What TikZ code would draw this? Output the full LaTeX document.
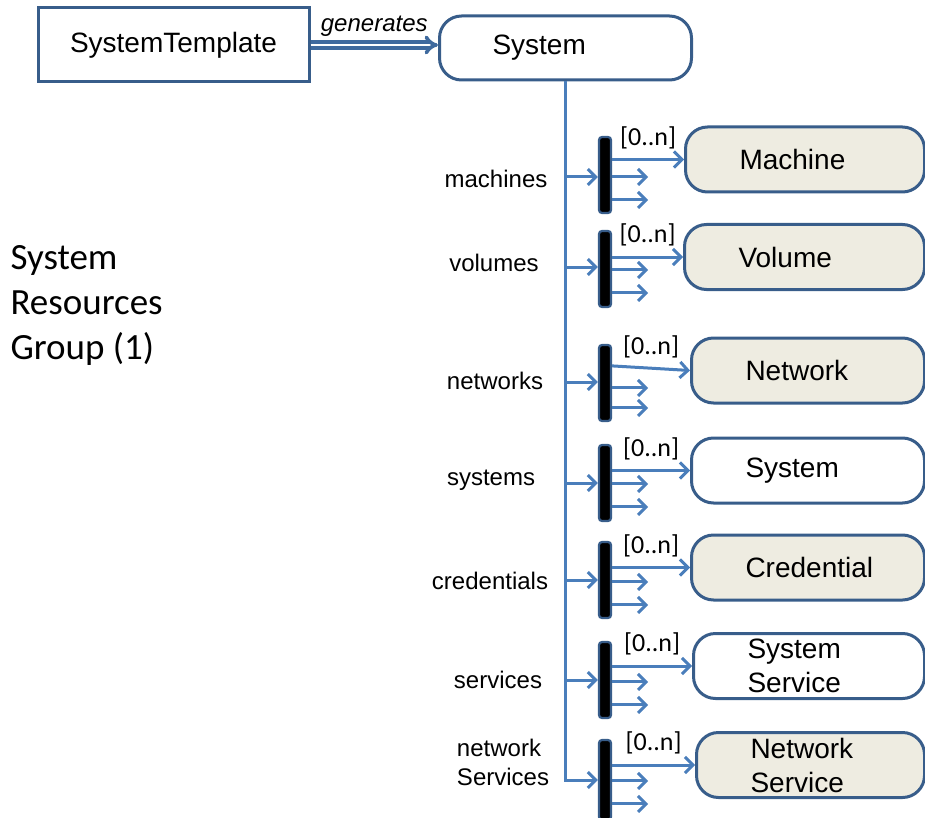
\documentclass[tikz,border=0pt]{standalone}
\usepackage{fontspec}
\setmainfont{Liberation Sans}
\newfontfamily\calibri{Carlito}
\usetikzlibrary{arrows.meta,positioning}

\definecolor{edgeblue}{HTML}{385D8A}
\definecolor{linkblue}{HTML}{4A7EBB}
\definecolor{resfill}{HTML}{EEECE1}

\tikzset{
  res/.style={draw=edgeblue, line width=3pt, rounded corners=22pt, fill=resfill,
    minimum height=65pt, text width=124pt, inner xsep=54pt, align=left,
    font=\fontsize{28}{34}\selectfont, anchor=west},
  resw/.style={res, fill=white},
  tmpl/.style={draw=edgeblue, line width=3pt, minimum width=271pt, minimum height=74pt,
    font=\fontsize{28}{34}\selectfont},
  selbar/.style={draw=edgeblue, line width=2.2pt, fill=black, rounded corners=3pt,
    minimum width=12pt, minimum height=76pt, inner sep=0pt},
  link/.style={draw=linkblue, line width=3pt, -{Straight Barb[length=8pt,width=16pt]}},
  gen/.style={draw=edgeblue!60!linkblue, line width=3.6pt, double=white, double distance=2.2pt,
    -{Implies}},
  role/.style={font=\fontsize{24}{29}\selectfont, align=left},
  mult/.style={font=\calibri\fontsize{26}{30}\selectfont, inner sep=1pt},
}

\begin{document}
\begin{tikzpicture}[x=1pt,y=-1pt]
\useasboundingbox (0,0) rectangle (925,818);

% template and generated system
\node[tmpl] (tmpl) at (173.5,45) {SystemTemplate};
\node[resw, text width=146pt, inner xsep=53pt, minimum height=64pt] (sys) at (438,48) {System};
\draw[gen] (tmpl.east) -- node[above, yshift=3pt, font=\itshape\fontsize{24}{29}\selectfont] {generates} (tmpl.east -| sys.west);

\node[font=\calibri\fontsize{37}{45}\selectfont, align=left, anchor=west] (grp) at (7,305) {System\\Resources\\Group (1)};

% machines
\node[selbar] (bar1) at (605,175) {};
\node[role] (lab1) at (496,179) {machines};
\node[res, text width=131pt] (mach) at (684,159.5) {Machine};
\draw[link] (sys.south |- 0,177) -- (bar1.west |- 0,177);
\draw[link] (bar1.east |- mach.west) -- node[mult, above, yshift=8pt] {[0..n]} (mach.west);
\draw[link] (bar1.north east) ++(0,41) -- ++(36,0);
\draw[link] (bar1.north east) ++(0,64) -- ++(36,0);

% volumes
\node[selbar] (bar2) at (605,269) {};
\node[role] (lab2) at (494,263) {volumes};
\node[res, text width=132pt] (vol) at (683,257) {Volume};
\draw[link] (sys.south |- 0,267) -- (bar2.west |- 0,267);
\draw[link] (bar2.east |- vol.west) -- node[mult, above, yshift=8pt] {[0..n]} (vol.west);
\draw[link] (bar2.north east) ++(0,40) -- ++(36,0);
\draw[link] (bar2.north east) ++(0,63) -- ++(36,0);

% networks
\node[selbar] (bar3) at (605,383) {};
\node[role] (lab3) at (495,381) {networks};
\node[res, text width=125pt] (net) at (690,370.5) {Network};
\draw[link] (sys.south |- 0,382) -- (bar3.west |- 0,382);
\draw[link] (bar3.north east) ++(0,22) -- node[mult, above, yshift=8pt] {[0..n]} (net.west);
\draw[link] (bar3.north east) ++(0,44) -- ++(36,0);
\draw[link] (bar3.north east) ++(0,64) -- ++(36,0);

% systems
\node[selbar] (bar4) at (605,483) {};
\node[role] (lab4) at (491,480) {systems};
\node[resw, text width=125pt] (sub) at (690,470.5) {System};
\draw[link] (sys.south |- bar4.west) -- (bar4.west);
\draw[link] (bar4.east |- sub.west) -- node[mult, above, yshift=8pt] {[0..n]} (sub.west);
\draw[link] (bar4.north east) ++(0,40) -- ++(36,0);
\draw[link] (bar4.north east) ++(0,63) -- ++(36,0);

% credentials
\node[selbar] (bar5) at (605,580) {};
\node[role] (lab5) at (490,581) {credentials};
\node[res, text width=125pt] (cred) at (690,567.5) {Credential};
\draw[link] (sys.south |- bar5.west) -- (bar5.west);
\draw[link] (bar5.east |- cred.west) -- node[mult, above, yshift=8pt] {[0..n]} (cred.west);
\draw[link] (bar5.north east) ++(0,41) -- ++(36,0);
\draw[link] (bar5.north east) ++(0,64) -- ++(36,0);

% services
\node[selbar] (bar6) at (605,680) {};
\node[role] (lab6) at (498,680) {services};
\node[resw, text width=123pt] (svc) at (692,666) {System\\Service};
\draw[link] (sys.south |- bar6.west) -- (bar6.west);
\draw[link] (bar6.east |- svc.west) -- node[mult, above, yshift=8pt] {[0..n]} (svc.west);
\draw[link] (bar6.north east) ++(0,41) -- ++(36,0);
\draw[link] (bar6.north east) ++(0,64) -- ++(36,0);

% network services
\node[selbar, minimum height=80pt] (bar7) at (605,780) {};
\node[role] (lab7) at (503,762) {network\\Services};
\node[res, text width=120pt] (nsvc) at (695,765) {Network\\Service};
\draw[link] (sys.south) |- (bar7.west);
\draw[link] (bar7.east |- nsvc.west) -- node[mult, above, yshift=8pt] {[0..n]} (nsvc.west);
\draw[link] (bar7.north east) ++(0,42) -- ++(36,0);
\draw[link] (bar7.north east) ++(0,65) -- ++(36,0);
\end{tikzpicture}
\end{document}
